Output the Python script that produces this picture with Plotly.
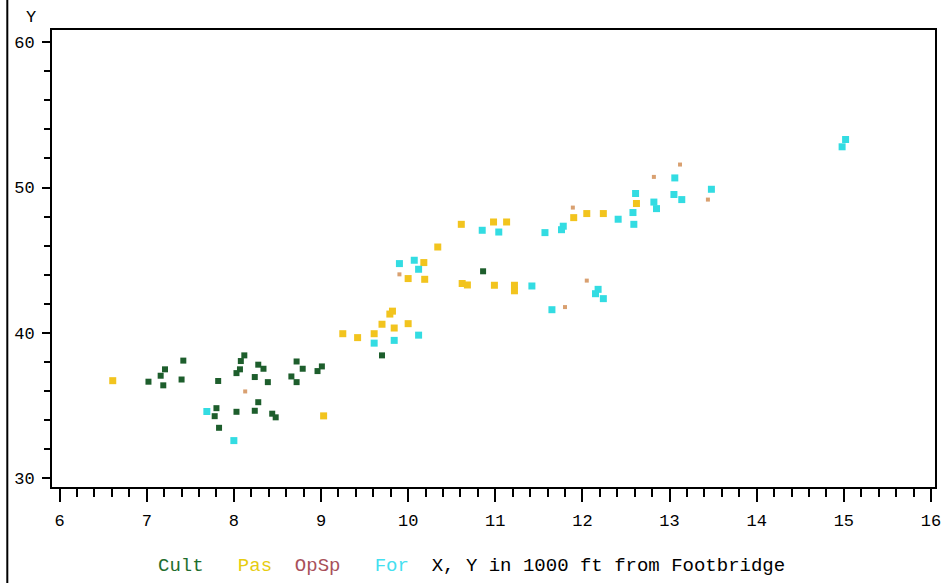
import plotly.graph_objects as go

# ---- data (X, Y in 1000 ft from Footbridge) ----
cult_x = [7.02, 7.21, 7.19, 7.16, 7.42, 7.40, 7.82, 8.12, 8.08, 8.07, 8.03, 8.28, 8.34, 8.24,
          8.39, 7.80, 7.78, 7.83, 8.03, 8.28, 8.24, 8.44, 8.48, 8.72, 8.79, 8.66, 8.72, 8.96,
          9.01, 9.70, 10.86]
cult_y = [36.65, 37.5, 36.4, 37.06, 38.1, 36.8, 36.7, 38.46, 38.07, 37.5, 37.24, 37.82, 37.54, 36.97,
          36.62, 34.83, 34.28, 33.48, 34.58, 35.24, 34.65, 34.45, 34.2, 38.04, 37.54, 37.01, 36.62, 37.38,
          37.7, 38.46, 44.24]

pas_x = [6.61, 9.03, 9.25, 9.42, 9.61, 9.70, 9.79, 9.82, 9.84, 10.0, 10.18, 10.0, 10.19, 10.34,
         10.61, 10.98, 11.13, 11.90, 12.05, 12.24, 10.62, 10.68, 10.99, 11.22, 11.22, 12.62]
pas_y = [36.72, 34.3, 39.95, 39.68, 39.95, 40.6, 41.3, 41.5, 40.34, 40.64, 44.84, 43.74, 43.69, 45.91,
         47.47, 47.63, 47.63, 47.93, 48.21, 48.21, 43.4, 43.3, 43.28, 43.28, 42.9, 48.9]

opsp_x = [8.13, 9.90, 11.89, 13.12, 13.44, 11.80, 12.05, 12.82]
opsp_y = [35.98, 44.03, 48.62, 51.58, 49.17, 41.78, 43.6, 50.73]

for_x = [7.69, 8.00, 9.61, 9.84, 10.12, 9.90, 10.07, 10.12, 10.85, 11.04, 11.57, 11.78, 11.76,
         11.42, 11.65, 12.18, 12.15, 12.24, 15.02, 14.98, 13.06, 13.48, 13.05, 13.14, 12.61,
         12.82, 12.85, 12.58, 12.59, 12.41]
for_y = [34.6, 32.6, 39.3, 39.49, 39.85, 44.77, 45.0, 44.38, 47.06, 46.94, 46.9, 47.34, 47.1,
         43.23, 41.6, 43.0, 42.7, 42.36, 53.3, 52.8, 50.66, 49.88, 49.52, 49.17, 49.59,
         49.0, 48.55, 48.28, 47.47, 47.82]

x_ticks = [6, 7, 8, 9, 10, 11, 12, 13, 14, 15, 16]
y_ticks = [30, 40, 50, 60]

FONT = "Liberation Mono, DejaVu Sans Mono, monospace"

fig = go.Figure()
fig.add_trace(go.Scatter(x=cult_x, y=cult_y, mode="markers", name="Cult",
                         marker=dict(symbol="square", size=6, color="#1d5e2c")))
fig.add_trace(go.Scatter(x=pas_x, y=pas_y, mode="markers", name="Pas",
                         marker=dict(symbol="square", size=7, color="#f2c41e")))
fig.add_trace(go.Scatter(x=opsp_x, y=opsp_y, mode="markers", name="OpSp",
                         marker=dict(symbol="square", size=4, color="#d9a070")))
fig.add_trace(go.Scatter(x=for_x, y=for_y, mode="markers", name="For",
                         marker=dict(symbol="square", size=7, color="#33dce2")))

fig.update_layout(
    width=948, height=583,
    margin=dict(l=52, r=7, t=30, b=96),
    paper_bgcolor="white", plot_bgcolor="white",
    showlegend=False,
    font=dict(family=FONT, size=16, color="black"),
)
fig.update_xaxes(
    range=[5.913, 16.046], tickvals=x_ticks, ticktext=[str(v) for v in x_ticks],
    showgrid=False, zeroline=False,
    showline=True, linecolor="black", linewidth=2, mirror=True,
    ticks="outside", ticklen=13, tickwidth=2, tickcolor="black",
    ticklabelstandoff=4,
    minor=dict(dtick=0.2, tick0=6, ticks="outside", ticklen=8, tickwidth=2, tickcolor="black", showgrid=False),
    tickfont=dict(family=FONT, size=17, color="black"),
)
fig.update_yaxes(
    range=[29.41, 60.83], tickvals=y_ticks, ticktext=[str(v) for v in y_ticks],
    showgrid=False, zeroline=False,
    showline=True, linecolor="black", linewidth=2, mirror=True,
    ticks="outside", ticklen=8, tickwidth=2, tickcolor="black",
    ticklabelstandoff=4,
    minor=dict(dtick=2, tick0=30, ticks="outside", ticklen=6, tickwidth=2, tickcolor="black", showgrid=False),
    tickfont=dict(family=FONT, size=17, color="black"),
)

# Y axis label above 60
fig.add_annotation(text="Y", xref="paper", yref="paper", x=(31 - 52) / 889, y=(487 - 18) / 457,
                   showarrow=False, xanchor="center", yanchor="middle",
                   font=dict(family=FONT, size=17, color="black"))

# bottom legend / axis caption
caption = ("<span style='color:#1f6e2e'>Cult</span>&nbsp;&nbsp;&nbsp;"
           "<span style='color:#e6cc10'>Pas</span>&nbsp;&nbsp;"
           "<span style='color:#a8505a'>OpSp</span>&nbsp;&nbsp;&nbsp;"
           "<span style='color:#44e0f0'>For</span>&nbsp;&nbsp;"
           "X, Y in 1000 ft from Footbridge")
fig.add_annotation(text=caption, xref="paper", yref="paper", x=(157 - 52) / 889, y=(487 - 566) / 457,
                   showarrow=False, xanchor="left", yanchor="middle",
                   font=dict(family=FONT, size=19, color="black"))

# outer frame line on the left
fig.add_shape(type="line", xref="paper", yref="paper",
              x0=(7 - 52) / 889, x1=(7 - 52) / 889, y0=(487 - 583) / 457, y1=(487 - 0) / 457,
              line=dict(color="black", width=2))

fig.write_html("out.html", config={"displayModeBar": False},
               post_script="document.body.style.margin='0';document.body.style.overflow='hidden';")
